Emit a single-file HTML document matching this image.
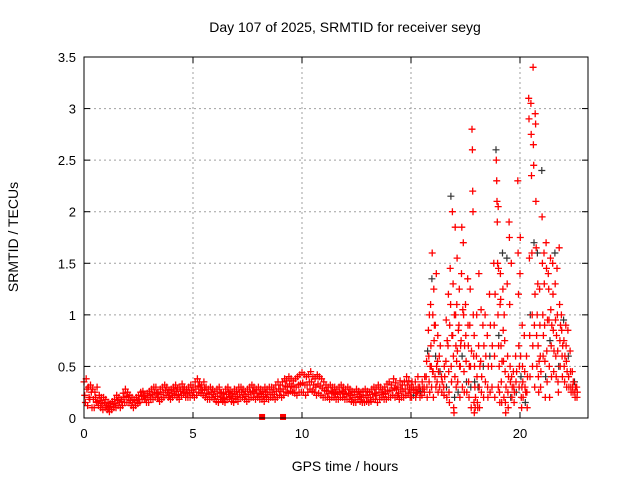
<!DOCTYPE html>
<html><head><meta charset="utf-8"><style>
body{margin:0;background:#fff}
svg{display:block;font-family:"Liberation Sans",sans-serif}
</style></head><body>
<svg id="chart" width="640" height="480" viewBox="0 0 640 480">
<rect width="640" height="480" fill="#fff"/>
<text x="345" y="32" font-size="14" text-anchor="middle">Day 107 of 2025, SRMTID for receiver seyg</text>
<text x="345" y="471" font-size="14" text-anchor="middle">GPS time / hours</text>
<text x="18" y="237" font-size="14" text-anchor="middle" transform="rotate(-90 18 237)">SRMTID / TECUs</text>
<g id="grid"></g>
<g id="axes"></g>
<g id="marks"></g>
<rect x="84" y="57" width="504" height="361" fill="none" stroke="#000" stroke-width="1"/>
</svg>
<script>
const xTicks=[0,5,10,15,20];
const yTicks=[0,0.5,1,1.5,2,2.5,3,3.5];
const yTickLabels=["0","0.5","1","1.5","2","2.5","3","3.5"];
const baseStart=0, baseStep=0.1;
const baseUpper=[.35,.38,.3,.32,.28,.25,.3,.22,.2,.2,
.18,.15,.14,.16,.18,.22,.2,.18,.24,.28,
.25,.22,.2,.18,.2,.22,.25,.26,.22,.24,
.26,.28,.3,.3,.25,.28,.3,.32,.3,.27,
.28,.3,.32,.28,.3,.33,.3,.28,.3,.32,
.3,.35,.38,.35,.32,.35,.3,.28,.3,.28,
.26,.28,.3,.25,.24,.28,.3,.26,.24,.28,
.26,.3,.3,.28,.26,.28,.3,.32,.3,.28,
.3,.28,.26,.3,.28,.3,.3,.28,.32,.35,
.32,.35,.38,.36,.4,.38,.36,.38,.4,.42,
.44,.42,.4,.42,.45,.4,.38,.42,.4,.38,
.35,.32,.3,.32,.3,.3,.28,.3,.32,.3,
.28,.3,.28,.26,.25,.28,.26,.25,.26,.28,
.26,.25,.28,.3,.28,.32,.3,.28,.3,.33,
.35,.32,.38,.34,.3,.36,.32,.35,.4,.36];
const baseMid=[.22,.28,.2,.25,.18,.2,.16,.17,.14,.15,
.12,.1,.11,.13,.14,.17,.15,.16,.2,.21,
.2,.17,.15,.15,.17,.18,.21,.22,.18,.2,
.22,.23,.25,.24,.2,.23,.25,.27,.25,.22,
.24,.26,.26,.23,.26,.28,.25,.24,.25,.27,
.25,.28,.31,.3,.27,.28,.24,.23,.25,.23,
.21,.21,.24,.2,.19,.23,.25,.21,.19,.23,
.21,.25,.25,.23,.21,.23,.25,.26,.24,.24,
.24,.23,.21,.25,.23,.25,.25,.23,.26,.28,
.26,.28,.31,.3,.33,.31,.3,.3,.32,.33,
.34,.32,.32,.35,.35,.32,.3,.33,.31,.29,
.27,.26,.24,.26,.25,.24,.23,.25,.26,.24,
.23,.24,.22,.2,.2,.23,.21,.2,.2,.22,
.2,.2,.23,.24,.22,.25,.25,.23,.24,.26,
.27,.27,.29,.28,.24,.28,.26,.28,.32,.28];
const baseLower=[.15,.12,.18,.1,.1,.15,.12,.1,.08,.1,
.08,.06,.08,.1,.1,.12,.1,.12,.15,.15,
.15,.12,.1,.12,.14,.15,.18,.18,.15,.15,
.18,.18,.2,.2,.16,.18,.2,.22,.2,.18,
.2,.22,.2,.18,.22,.24,.2,.2,.2,.22,
.2,.22,.25,.24,.22,.2,.18,.18,.2,.18,
.16,.15,.18,.16,.15,.18,.2,.16,.15,.18,
.16,.2,.2,.18,.16,.18,.2,.2,.18,.2,
.18,.18,.16,.2,.18,.2,.2,.18,.2,.22,
.2,.22,.25,.24,.26,.25,.24,.22,.25,.25,
.25,.22,.25,.28,.26,.25,.22,.24,.22,.2,
.2,.2,.18,.2,.2,.18,.18,.2,.2,.18,
.18,.18,.16,.15,.15,.18,.16,.15,.15,.16,
.15,.16,.18,.18,.15,.18,.2,.18,.18,.2,
.2,.22,.2,.22,.18,.2,.2,.22,.24,.2];
const stormTimes=[15.0,15.1,15.2,15.3,15.4,15.5,15.6,15.7,15.8,15.9,16.0,16.1,16.2,16.3,16.4,16.5,16.6,16.7,16.8,16.9,17.0,17.1,17.2,17.3,17.4,17.5,17.6,17.7,17.8,17.9,18.0,18.1,18.2,18.3,18.4,18.5,18.6,18.7,18.8,18.9,19.0,19.1,19.2,19.3,19.4,19.5,19.6,19.7,19.8,19.9,20.0,20.1,20.2,20.3,20.4,20.5,20.6,20.7,20.8,20.9,21.0,21.1,21.2,21.3,21.4,21.5,21.6,21.7,21.8,21.9,22.0,22.1,22.2,22.3,22.4,22.5,22.6];
const stormValues=[[.25,.3,.2,.35],[.3,.22,.27],[.35,.2,.28,.24],[.25,.4,.3],[.3,.2,.26],[.22,.35,.28],[.3,.25,.4],[.4,.55,.3,.2,.65],[.85,.6,.35,1.0,.25,.5],[1.1,.7,.5,.3,1.35,1.6,.45],[1.0,.45,.2,1.25,.75,.9],[.4,.9,.6,.3,1.4,.5],[.35,.55,.8,.25,.45],[.6,.3,.45,.7],[.4,.25,.35],[.3,.22,.5,.4],[.55,.95,.3,.2,.75],[.7,1.2,.45,.25,.15,.9],[1.45,1.1,2.15,.5,.35,.8],[2.0,.8,1.3,.6,.1,.05,1.0],[.2,.4,1.85,1.0,.7,.3,.55],[1.1,1.55,.65,.35,.25,.85],[.9,1.25,.5,.2,.5,.7],[.75,1.4,1.85,.6,.3,1.05],[1.7,1.0,.45,.25,.7],[1.1,.8,.55,.35,.25],[1.35,.9,.7,.35,.2,.5],[.9,1.25,.5,.3,.1,.65],[2.8,2.6,2.2,2.0,1.0,.6,.15,.05,.35],[.8,.5,.3,.1,.2],[.6,1.0,.4,.15,.1,.3],[.7,1.4,.3,.1,.5],[.55,1.05,.25,.4],[.9,.5,.2,.7],[1.0,.35,.6],[.8,.3,.2,.5],[1.2,.6,.25,.9],[.5,.3,.7],[1.5,.9,.6,.2,1.2],[2.6,2.5,2.3,2.1,1.9,1.5,1.0,.3,.7],[2.05,1.45,.8,.5,.25,.15,1.1],[1.4,1.15,.7,.35,.15,.55],[1.6,1.25,.85,.55,.2,1.0],[.75,.45,.15,.05,.3],[1.55,1.3,.6,.25,.1,.4],[1.9,1.75,1.1,.5,.35,.2],[1.5,.4,.2,.3],[.45,.3,.15,.25],[.6,.35,.25,.45],[2.3,1.6,1.2,.7,.3,.5],[1.4,1.75,.6,.4,.2,.1,.3],[.9,.5,.35,.2],[.8,.45,.3,.15,.25],[.6,.25,.1,.4],[3.1,2.9,1.55,.8,.4,1.0],[3.05,2.75,2.35,1.6,1.0,.5,.7],[3.4,2.65,2.45,1.7,.9,.3,1.2],[2.95,2.85,2.1,1.65,.8,.5,1.0],[1.6,1.3,.7,.4,.25,.55],[1.25,.9,.6,.3,.45],[2.4,1.95,1.5,1.0,.6,.8],[1.6,1.3,.9,.55,.2,.4],[1.7,1.45,.65,.35,.95],[1.4,1.25,.95,.5,.2,.75],[1.55,1.05,.7,.4,.9],[1.5,1.2,.85,.45,.65],[1.6,1.3,.95,.6,.4,.8],[1.45,1.0,.65,.35,.25,.5],[1.65,1.1,.75,.5,.9],[1.0,.85,.6,.4,.7],[.95,.75,.5,.35,.6],[.9,.7,.55,.3,.45],[.85,.6,.4,.3],[.65,.45,.3,.25],[.45,.3,.25,.35],[.35,.25,.2,.3],[.3,.2,.25]];
const squareTimes=[8.17,9.13];
const squareValues=[0.01,0.01];

const X0=84,X1=588,Y0=418,Y1=57,XMAX=23.12,YMAX=3.5;
const xs=t=>X0+t/XMAX*(X1-X0);
const ys=v=>Y0-v/YMAX*(Y0-Y1);
const NS="http://www.w3.org/2000/svg";
const grid=document.getElementById('grid'),axes=document.getElementById('axes'),marks=document.getElementById('marks');
function mk(tag,attrs,parent){const e=document.createElementNS(NS,tag);for(const k in attrs)e.setAttribute(k,attrs[k]);parent.appendChild(e);return e;}
xTicks.forEach((t,i)=>{const x=xs(t);
 if(t>0){const g=mk('line',{x1:x,x2:x,y1:Y1,y2:Y0,stroke:'#a0a0a0','stroke-dasharray':'2,3'},grid);
 
 }
 mk('line',{x1:x,x2:x,y1:Y0,y2:Y0-6,stroke:'#000'},axes);
 mk('line',{x1:x,x2:x,y1:Y1,y2:Y1+6,stroke:'#000'},axes);
 const tx=mk('text',{x:x,y:Y0+20,'font-size':13,'text-anchor':'middle'},axes);tx.textContent=t;
 
 
});
yTicks.forEach((v,i)=>{const y=ys(v);
 if(v>0&&v<YMAX){const g=mk('line',{x1:X0,x2:X1,y1:y,y2:y,stroke:'#a0a0a0','stroke-dasharray':'2,3'},grid);
 
 }
 mk('line',{x1:X0,x2:X0+6,y1:y,y2:y,stroke:'#000'},axes);
 mk('line',{x1:X1,x2:X1-6,y1:y,y2:y,stroke:'#000'},axes);
 const tx=mk('text',{x:X0-8,y:y+5,'font-size':13,'text-anchor':'end'},axes);tx.textContent=yTickLabels[i];
 
 
});
let dRed='',dDark='';
function plus(t,v){const x=xs(t),y=ys(v);return `M${(x-3.5).toFixed(1)} ${y.toFixed(1)}h7M${x.toFixed(1)} ${(y-3.5).toFixed(1)}v7`;}
baseUpper.forEach((v,i)=>{dRed+=plus(baseStart+i*baseStep,v);});
baseMid.forEach((v,i)=>{dRed+=plus(baseStart+i*baseStep+0.033,v);});
baseLower.forEach((v,i)=>{dRed+=plus(baseStart+i*baseStep+0.066,v);});
let k=0;
stormTimes.forEach((t,i)=>{stormValues[i].forEach((v,j)=>{const p=plus(t+j*0.015,v);if(k%11===5)dDark+=p;else dRed+=p;k++;});});
const pd=mk('path',{d:dDark,stroke:'#333',fill:'none','stroke-width':1.2},marks);


const pr=mk('path',{d:dRed,stroke:'#ff0000',fill:'none','stroke-width':1.3},marks);


squareTimes.forEach((t,i)=>{const s=mk('rect',{x:xs(t)-3,y:ys(squareValues[i])-3,width:6,height:6,fill:'#ff0000'},marks);
 
 });
</script>
</body></html>
